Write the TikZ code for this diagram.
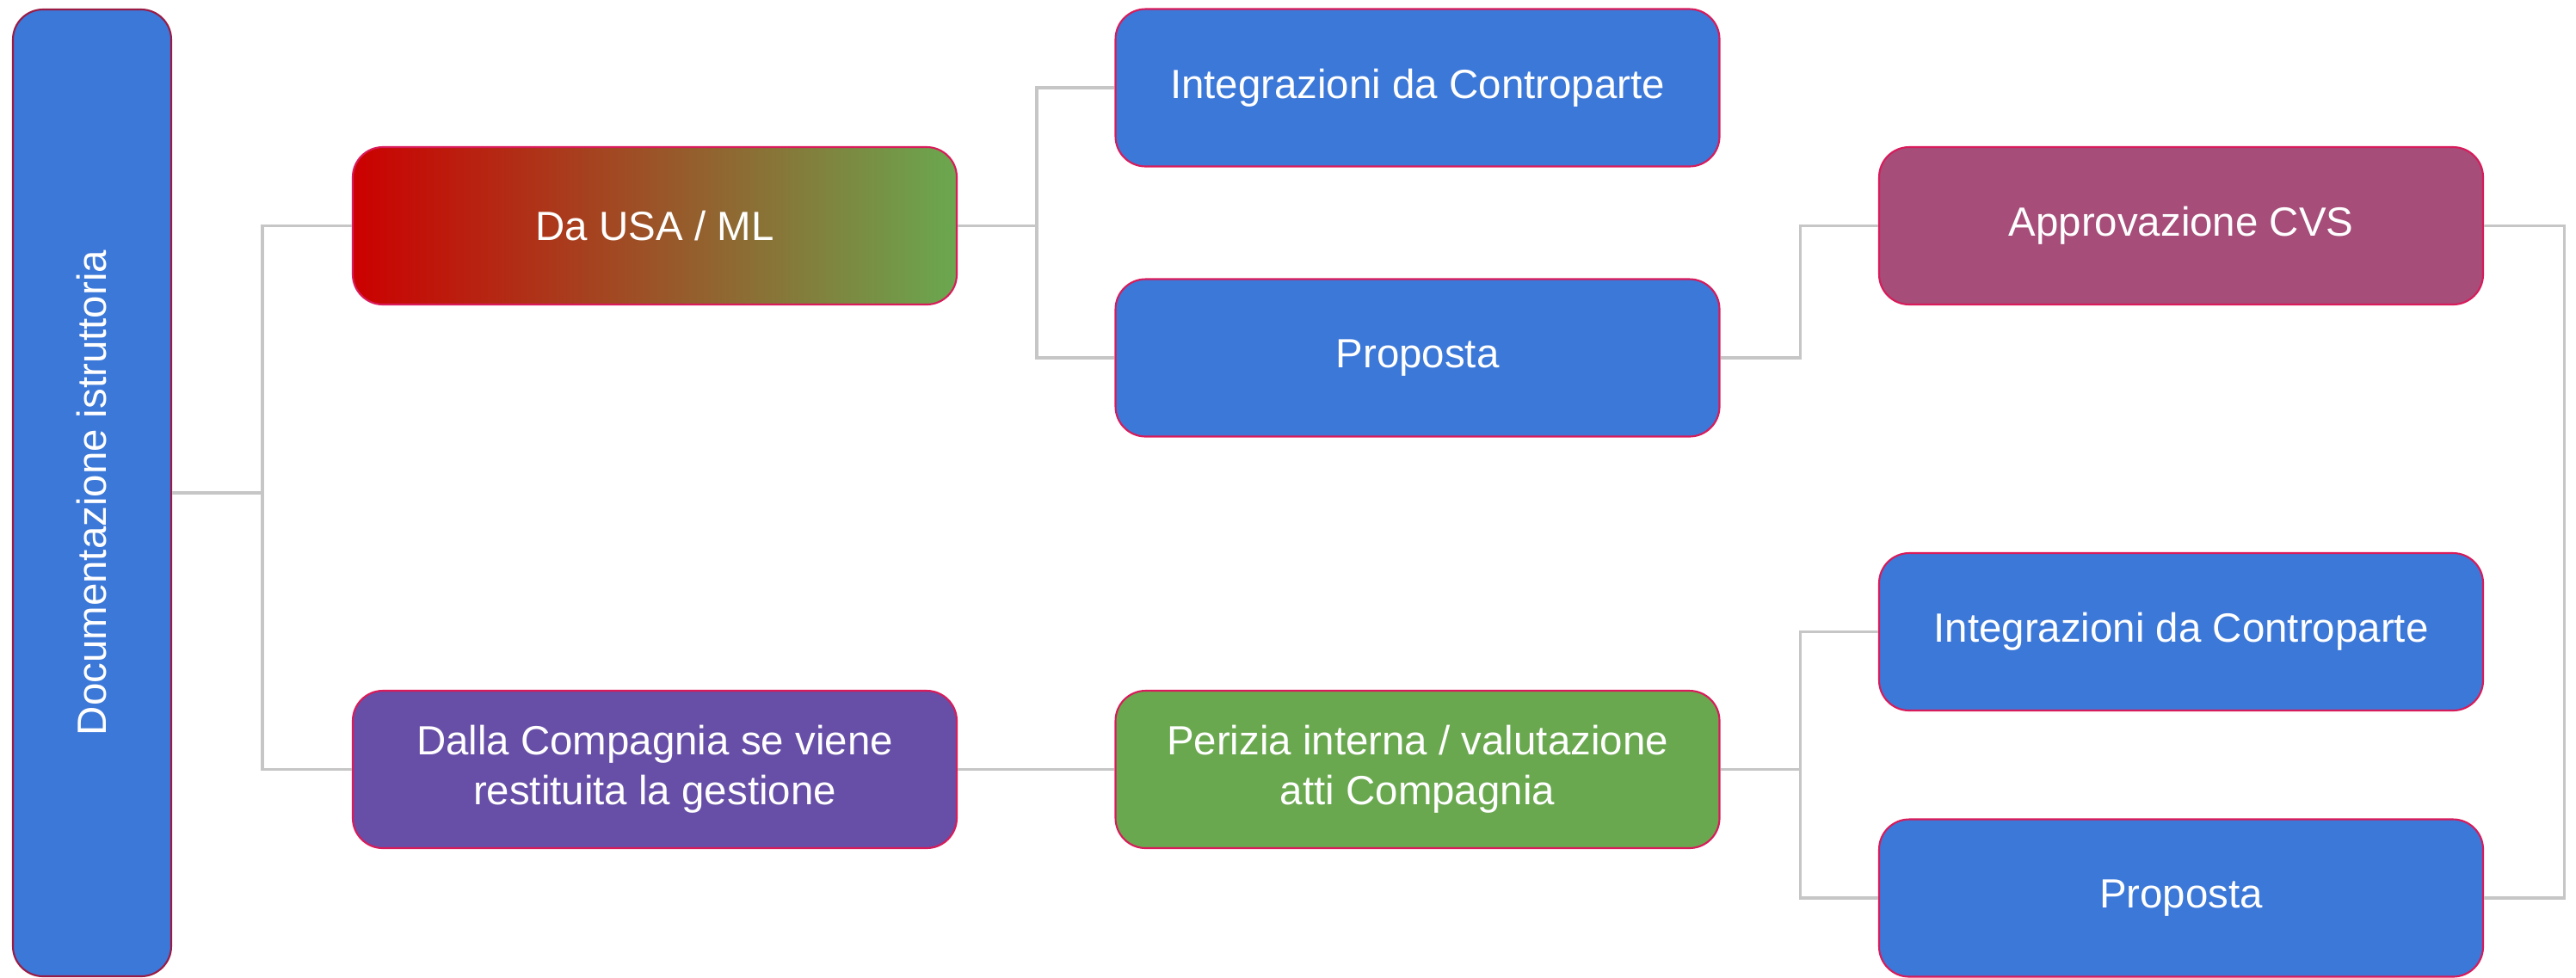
\documentclass[tikz,border=0pt]{standalone}
\usepackage{fontspec}
\setmainfont{Liberation Sans}
\usetikzlibrary{positioning}
\definecolor{boxblue}{HTML}{3C78D8}
\definecolor{boxpurple}{HTML}{674EA7}
\definecolor{boxgreen}{HTML}{6AA84F}
\definecolor{boxplum}{HTML}{A64D79}
\definecolor{boxred}{HTML}{CC0000}
\definecolor{rimred}{HTML}{D81B5A}
\definecolor{rimdark}{HTML}{9A1C45}
\definecolor{linegray}{HTML}{C6C6C6}

\tikzset{
 card/.style={draw=rimred, line width=0.6pt, rounded corners=0.35cm, minimum width=7.02cm, minimum height=1.83cm,
  inner sep=0pt, text=white, align=center, font=\fontsize{13.5pt}{16.5pt}\selectfont},
 link/.style={draw=linegray, line width=0.9pt},
}

\begin{document}
\begin{tikzpicture}
 \useasboundingbox (0,0) rectangle (29.94,-11.36);
 \node[card, fill=boxblue, draw=rimdark, minimum width=1.84cm, minimum height=11.24cm] (doc) at (1.07,-5.73) {\rotatebox{90}{Documentazione istruttoria}};
 \node[card, left color=boxred, right color=boxgreen] (usa) at (7.61,-2.625) {Da USA / ML};
 \node[card, fill=boxpurple] (comp) at (7.61,-8.945) {Dalla Compagnia se viene\\restituita la gestione};
 \node[card, fill=boxblue] (integ1) at (16.475,-1.02) {Integrazioni da Controparte};
 \node[card, fill=boxblue] (prop1) at (16.475,-4.16) {Proposta};
 \node[card, fill=boxgreen] (perizia) at (16.475,-8.945) {Perizia interna / valutazione\\atti Compagnia};
 \node[card, fill=boxplum] (cvs) at (25.35,-2.625) {Approvazione CVS};
 \node[card, fill=boxblue] (integ2) at (25.35,-7.345) {Integrazioni da Controparte};
 \node[card, fill=boxblue] (prop2) at (25.35,-10.44) {Proposta};

 \draw[link] (doc.east) -- ++(1.05,0) |- (usa.west);
 \draw[link] (doc.east) -- ++(1.05,0) |- (comp.west);
 \draw[link] (usa.east) -- ++(0.92,0) |- (integ1.west);
 \draw[link] (usa.east) -- ++(0.92,0) |- (prop1.west);
 \draw[link] (comp.east) -- (perizia.west);
 \draw[link] (prop1.east) -- ++(0.93,0) |- (cvs.west);
 \draw[link] (perizia.east) -- ++(0.93,0) |- (integ2.west);
 \draw[link] (perizia.east) -- ++(0.93,0) |- (prop2.west);
 \draw[link] (cvs.east) -- ++(0.93,0) |- (prop2.east);
\end{tikzpicture}
\end{document}
